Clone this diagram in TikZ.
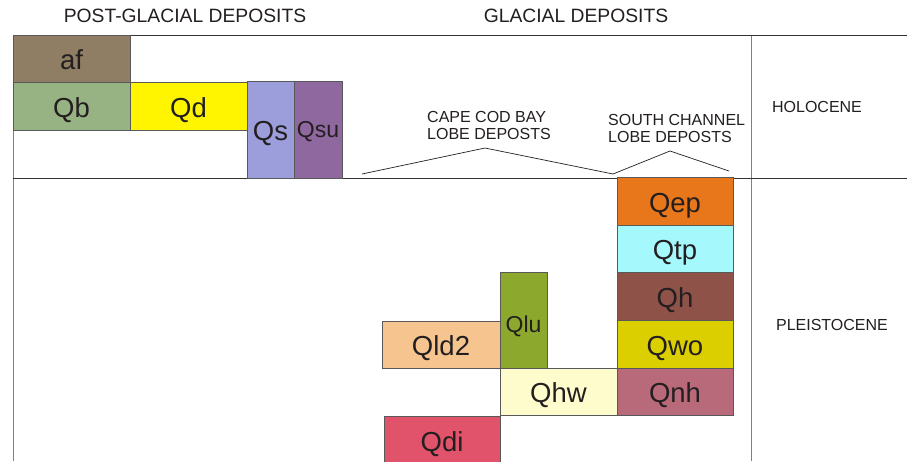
\documentclass[tikz,border=0pt]{standalone}
\usepackage{fontspec}
\setmainfont{Liberation Sans}
\usetikzlibrary{positioning}

\definecolor{afcol}{HTML}{8F7E63}
\definecolor{qbcol}{HTML}{97B283}
\definecolor{qdcol}{HTML}{FFF500}
\definecolor{qscol}{HTML}{9B9EDB}
\definecolor{qsucol}{HTML}{8F68A0}
\definecolor{qepcol}{HTML}{E8771C}
\definecolor{qtpcol}{HTML}{A5F8FC}
\definecolor{qhcol}{HTML}{8F5248}
\definecolor{qwocol}{HTML}{DCCF00}
\definecolor{qnhcol}{HTML}{B8697A}
\definecolor{qhwcol}{HTML}{FEFBCC}
\definecolor{qlucol}{HTML}{8CA92E}
\definecolor{qldcol}{HTML}{F6C48F}
\definecolor{qdicol}{HTML}{E0536A}
\definecolor{inkcol}{HTML}{231F20}

\tikzset{
  unit/.style={draw=black!65, line width=0.9pt, inner sep=0pt, text=inkcol,
    text height=22pt, text depth=0pt,
    font=\fontsize{27.5}{27}\selectfont},
  smallunit/.style={unit, text height=16pt, font=\fontsize{23}{23}\selectfont},
  header/.style={text=inkcol, font=\fontsize{19.3}{19}\selectfont},
  note/.style={text=inkcol, align=left, inner sep=0pt,
    font=\fontsize{16}{17}\selectfont},
  frame/.style={draw=black!80, line width=0.9pt},
  divider/.style={draw=black!50, line width=1pt},
  brace/.style={draw=inkcol, line width=0.7pt}
}

\begin{document}
\begin{tikzpicture}[x=1pt,y=-1pt]
    \useasboundingbox[fill=white] (0,0) rectangle (907,461);

    % Frame
    \draw[divider] (13,35) -- (13,461);
    \draw[divider] (751,35) -- (751,461);
    \draw[frame] (13,35) -- (907,35);
    \draw[frame] (13,178) -- (907,178);

    % Headers
    \node[header] (postglacial) at (185,16) {POST-GLACIAL DEPOSITS};
    \node[header] (glacial) at (576,16) {GLACIAL DEPOSITS};
    \node[note] (holocene) at (817,107) {HOLOCENE};
    \node[note] (pleistocene) at (832,325) {PLEISTOCENE};

    % Post-glacial units
    \node[unit, fill=afcol, minimum width=117, minimum height=47] (af) at (71.5,58.5) {af};
    \node[unit, fill=qbcol, minimum width=117, minimum height=48] (Qb) at (71.5,106) {Qb};
    \node[unit, fill=qdcol, minimum width=117, minimum height=48] (Qd) at (188.5,106) {Qd};
    \node[unit, fill=qscol, minimum width=47, minimum height=97] (Qs) at (270.5,129.5) {Qs};
    \node[smallunit, fill=qsucol, minimum width=48, minimum height=97] (Qsu) at (318,129.5) {Qsu};

    % South Channel lobe units
    \node[unit, fill=qepcol, minimum width=116, minimum height=48] (Qep) at (675,201) {Qep};
    \node[unit, fill=qtpcol, minimum width=116, minimum height=47] (Qtp) at (675,248.5) {Qtp};
    \node[unit, fill=qhcol, minimum width=116, minimum height=48] (Qh) at (675,296) {Qh};
    \node[unit, fill=qwocol, minimum width=116, minimum height=48] (Qwo) at (675,344) {Qwo};
    \node[unit, fill=qnhcol, minimum width=116, minimum height=47] (Qnh) at (675,391.5) {Qnh};

    % Cape Cod Bay lobe units
    \node[unit, fill=qhwcol, minimum width=117, minimum height=47] (Qhw) at (558.5,391.5) {Qhw};
    \node[smallunit, fill=qlucol, minimum width=47, minimum height=96, text height=25pt] (Qlu) at (523.5,320) {Qlu};
    \node[unit, fill=qldcol, minimum width=118, minimum height=47] (Qld2) at (441,344.5) {Qld2};
    \node[unit, fill=qdicol, minimum width=116, minimum height=48] (Qdi) at (442,440) {Qdi};

    % Lobe labels
    \node[note, anchor=north west] (ccb) at (427,111) {CAPE COD BAY\\LOBE DEPOSTS};
    \node[note, anchor=north west] (scl) at (608,114) {SOUTH CHANNEL\\LOBE DEPOSTS};
    \coordinate (ccbL) at (362,174);
    \coordinate (ccbTop) at (485,148);
    \coordinate (split) at (613,174);
    \coordinate (sclTop) at (670,151);
    \coordinate (sclR) at (729,171);
    \draw[brace] (ccbL) -- (ccbTop) -- (split);
    \draw[brace] (split) -- (sclTop) -- (sclR);
\end{tikzpicture}
\end{document}
